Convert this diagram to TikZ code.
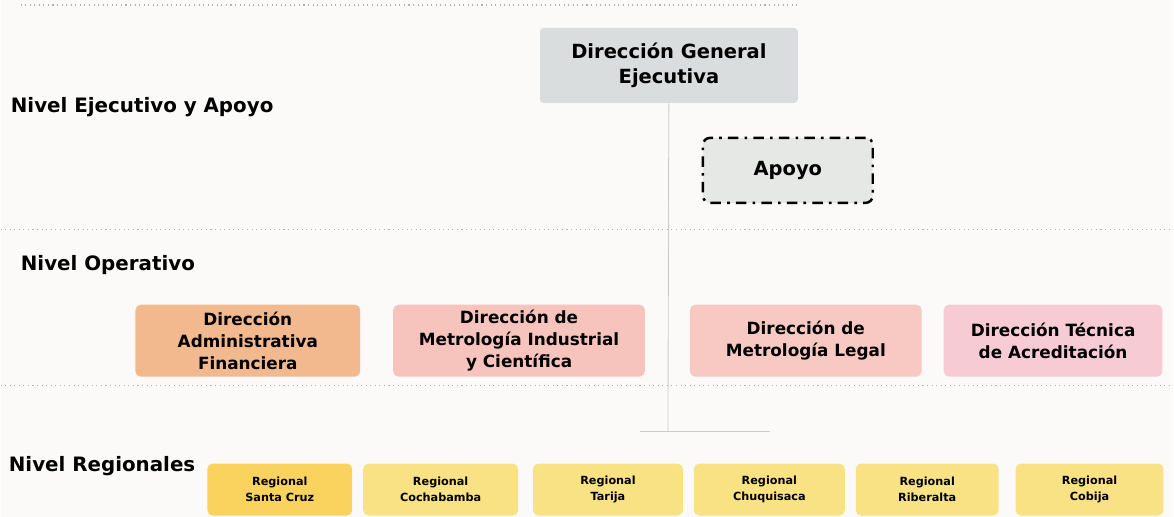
\documentclass[tikz,border=0pt]{standalone}
\usepackage{fontspec}
\setmainfont{DejaVu Sans}
\definecolor{paper}{HTML}{FBFAF8}
\definecolor{dgegray}{HTML}{D9DDDD}
\definecolor{apoyogray}{HTML}{E6E8E6}
\definecolor{admorange}{HTML}{F2B98F}
\definecolor{indpink}{HTML}{F6C4BC}
\definecolor{legpink}{HTML}{F7C9C2}
\definecolor{tecpink}{HTML}{F6CBD3}
\definecolor{regyellow}{HTML}{F8E284}
\definecolor{sepgray}{HTML}{B4B0AE}
\begin{document}
\begin{tikzpicture}[x=0.02cm,y=-0.02cm,
    level/.style={anchor=west,inner sep=0pt,font=\bfseries\fontsize{11.3}{14}\selectfont},
    topbox/.style={rounded corners=2pt,align=center,inner sep=0pt,
      font=\bfseries\fontsize{11.1}{14}\selectfont},
    opbox/.style={rounded corners=3pt,align=center,inner sep=0pt,
      minimum height=1.44cm,font=\bfseries\fontsize{9.6}{12.4}\selectfont},
    regbox/.style={fill=regyellow,rounded corners=3pt,align=center,inner sep=0pt,
      minimum height=1.04cm,font=\bfseries\fontsize{6.4}{9}\selectfont},
    sep/.style={sepgray,dotted,line width=0.6pt}]
  % page
  \fill[paper] (0,0) rectangle (1174,517);
  % level separators
  \draw[sep] (20,5) -- (800,5);
  \draw[sep] (0,230) -- (1174,230);
  \draw[sep] (0,386) -- (1174,386);
  % level labels
  \node[level] (ejec) at (10,107) {Nivel Ejecutivo y Apoyo};
  \node[level] (oper) at (20,265) {Nivel Operativo};
  \node[level] (regi) at (8,467) {Nivel Regionales};
  % executive level
  \node[topbox,fill=dgegray,minimum width=5.16cm,minimum height=1.5cm] (dge) at (669,65.5)
    {Dirección General\\Ejecutiva};
  \node[topbox,fill=apoyogray,draw=black,line width=1.4pt,rounded corners=4pt,
    dash pattern=on 6pt off 3.5pt on 1.5pt off 3.5pt,
    minimum width=3.4cm,minimum height=1.3cm] (apoyo) at (788,170.5) {Apoyo};
  \coordinate (jn) at (668,432);
  \begin{scope}[gray!40,line width=0.5pt]
    \draw (dge) -- (jn);
    \draw (640,432) -- (770,432);
  \end{scope}
  % operative level
  \node[opbox,fill=admorange,minimum width=4.5cm] (adm) at (247.5,341)
    {Dirección\\Administrativa\\Financiera};
  \node[opbox,fill=indpink,minimum width=5.04cm] (ind) at (519,341)
    {Dirección de\\Metrología Industrial\\y Científica};
  \node[opbox,fill=legpink,minimum width=4.64cm] (leg) at (806,341)
    {Dirección de\\Metrología Legal};
  \node[opbox,fill=tecpink,minimum width=4.38cm] (tec) at (1053.5,341)
    {Dirección Técnica\\de Acreditación};
  % regional level
  \node[regbox,fill=regyellow!80!orange!90!yellow,minimum width=2.9cm] (scz) at (279.5,490)
    {Regional\\Santa Cruz};
  \node[regbox,minimum width=3.1cm] (cbba) at (440.5,490) {Regional\\Cochabamba};
  \node[regbox,minimum width=3.0cm] (tja) at (608,490) {Regional\\Tarija};
  \node[regbox,minimum width=3.02cm] (chq) at (769.5,490) {Regional\\Chuquisaca};
  \node[regbox,minimum width=2.86cm] (rib) at (927.5,490) {Regional\\Riberalta};
  \node[regbox,minimum width=2.96cm] (cob) at (1090,490) {Regional\\Cobija};
\end{tikzpicture}
\end{document}
